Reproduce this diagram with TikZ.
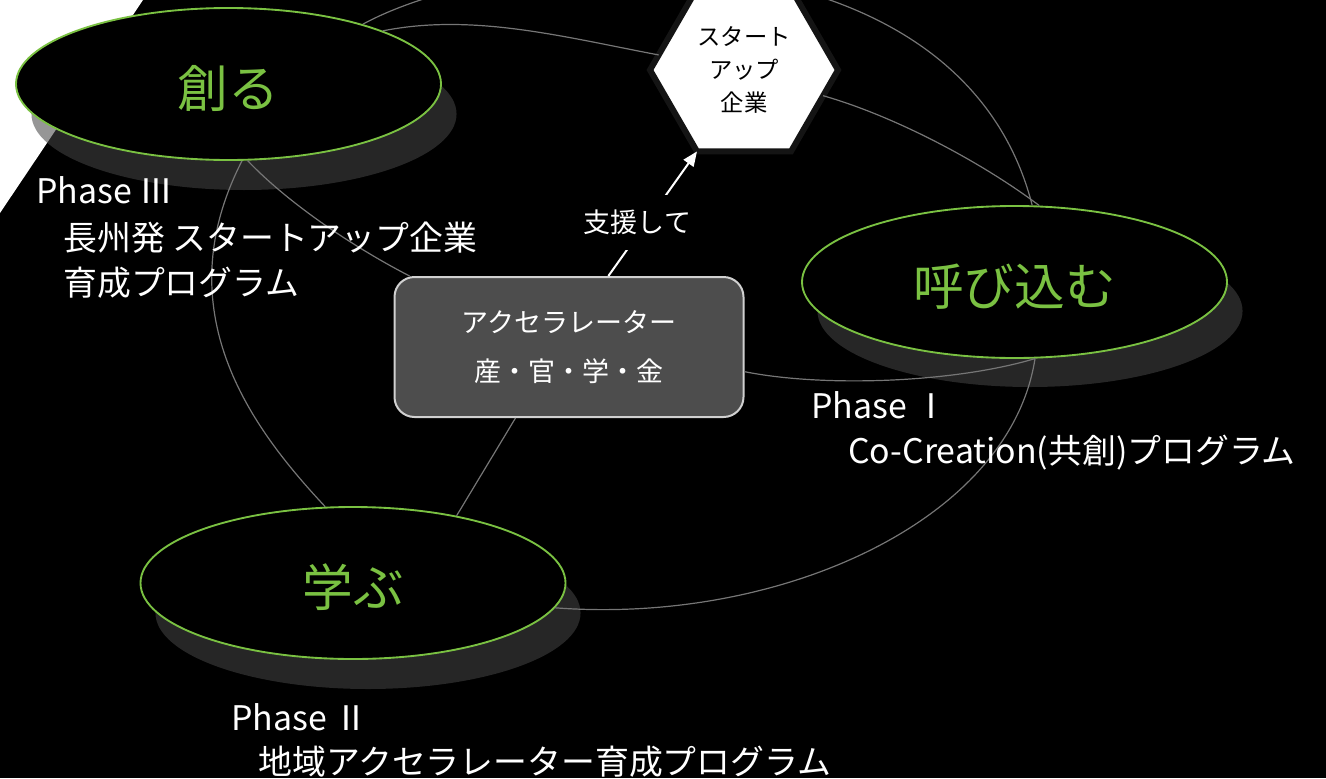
\documentclass[tikz,border=0pt]{standalone}
\usepackage{fontspec}
\setmainfont{Noto Sans CJK JP}
\usetikzlibrary{shapes.geometric,arrows.meta}

\definecolor{leafgreen}{RGB}{122,193,66}
\definecolor{linkgray}{RGB}{118,118,118}
\definecolor{boxgray}{RGB}{77,77,77}
\definecolor{boxedge}{RGB}{208,208,208}
\definecolor{shadowgray}{RGB}{68,68,68}
\definecolor{hexedge}{RGB}{20,20,20}

\begin{document}
\begin{tikzpicture}[x=0.75pt,y=0.75pt,yscale=-1,xscale=1,
  stage/.style={ellipse, draw=leafgreen, line width=1.4pt, fill=black, text=leafgreen, minimum width=318.75pt, minimum height=114pt, inner sep=0pt, text height=39.4pt, text depth=4.56pt, font=\fontsize{38}{42}\selectfont},
  stageshadow/.style={fill=shadowgray, fill opacity=0.56},
  accelbox/.style={draw=boxedge, fill=boxgray, line width=1.5pt, rounded corners=15pt, minimum width=261.75pt, minimum height=105pt, inner sep=0pt, text=white, align=center, font=\fontsize{20.25}{36.75}\selectfont},
  hexcell/.style={regular polygon, regular polygon sides=6, minimum size=141pt, inner sep=0pt, outer sep=0pt, fill=white, draw=hexedge, line width=4.5pt, align=center, font=\fontsize{17.5}{25}\selectfont},
  link/.style={draw=linkgray, line width=0.9pt},
  supportarrow/.style={draw=white, line width=1.5pt, -{Triangle[length=11pt,width=9pt]}},
  supportlabel/.style={fill=black, text=white, inner xsep=2pt, inner ysep=11pt, font=\fontsize{20.25}{24}\selectfont},
  phase/.style={anchor=base west, inner sep=0pt, text=white, font=\fontsize{25.4}{30}\selectfont}
]
\useasboundingbox (0,0) rectangle (1326,778);
\clip (0,0) rectangle (1326,778);
%Shape: Rectangle (background)
\fill [black] (0,0) rectangle (1326,778);
%Shape: Triangle
\fill [white] (0,0) -- (143,0) -- (0,213) -- cycle;

%Shape: Ellipse shadows
\fill [stageshadow] (244,114) ellipse [x radius=159.4pt, y radius=57pt];
\fill [stageshadow] (1030,311) ellipse [x radius=159.4pt, y radius=57pt];
\fill [stageshadow] (368,613) ellipse [x radius=159.4pt, y radius=57pt];

%Shape: Ellipse
\node [stage] (tsukuru) at (228.5,84) {創る};
\node [stage] (yobikomu) at (1014.5,282) {呼び込む};
\node [stage] (manabu) at (353,583) {学ぶ};

%Shape: Rounded Rect
\node [accelbox] (accel) at (569,347) {アクセラレーター\\産・官・学・金};

%Shape: Hexagon
\node [hexcell] (startup) at (744,70) {スタート\\アップ\\企業};

%Curve Lines
\draw [link] (tsukuru.24) .. controls +(157,-85) and +(-73,-286) .. (yobikomu.77);
\draw [link] (tsukuru.19) .. controls +(90,-18) and +(-95,-18) .. (startup.170);
\draw [link] (startup.-18) .. controls +(70,20) and +(-60,-45) .. (yobikomu.72);
\draw [link] (tsukuru.-76) .. controls +(40,42) and +(-58,-30) .. (accel.156);
\draw [link] (tsukuru.-80) .. controls +(-77,150) and +(-75,-80) .. (manabu.110);
\draw [link] (accel.-8) .. controls +(80,16) and +(-80,24) .. (yobikomu.-75);
\draw [link] (manabu.-7) .. controls +(225,17) and +(-25,162) .. (yobikomu.-75);
%Straight Lines
\draw [link] (accel.233) -- (manabu.33);

%Straight Lines (arrow)
\draw [supportarrow] (accel.61) -- node [supportlabel, pos=0.43, xshift=-6.75pt] (shien) {支援して} (startup.240);

% Text Node
\node [phase] (ph3) at (36,203) {Phase Ⅲ};
\node [phase] (ph3a) at (63,250) {長州発 スタートアップ企業};
\node [phase] (ph3b) at (63,295) {育成プログラム};
% Text Node
\node [phase] (ph1) at (811,418) {Phase Ⅰ};
\node [phase] (ph1a) at (848,463) {Co-Creation(共創)プログラム};
% Text Node
\node [phase] (ph2) at (231,730) {Phase Ⅱ};
\node [phase] (ph2a) at (258,774) {地域アクセラレーター育成プログラム};
\end{tikzpicture}
\end{document}
